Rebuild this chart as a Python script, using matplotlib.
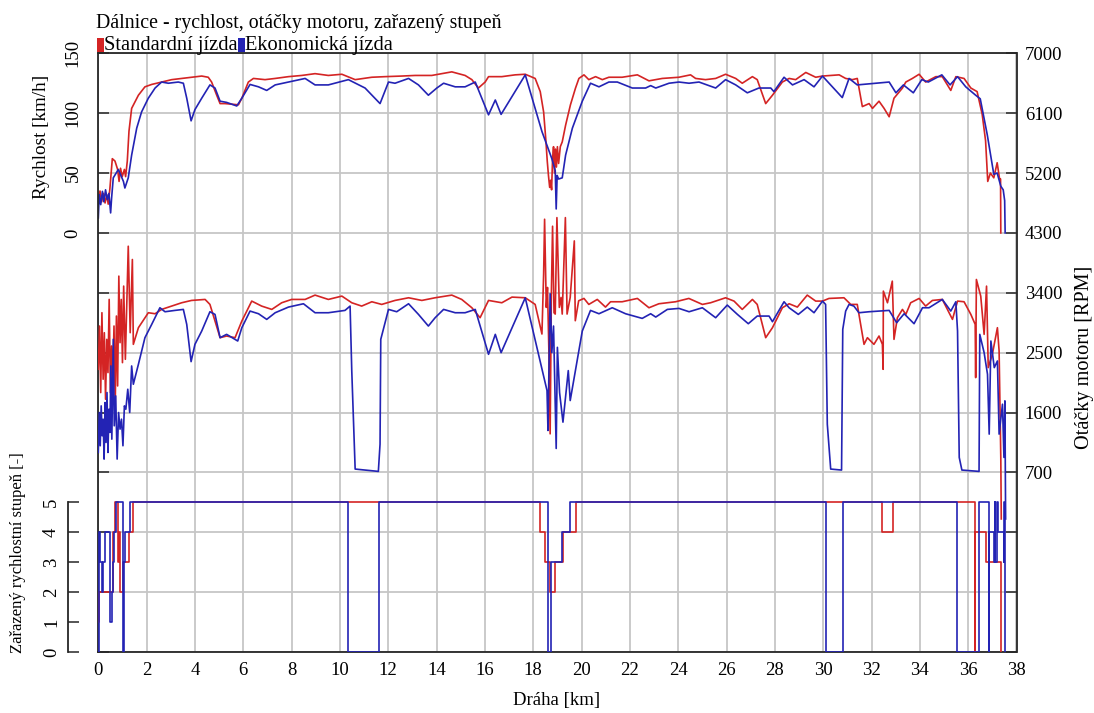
import matplotlib
matplotlib.use("Agg")
import matplotlib.pyplot as plt
import numpy as np
from matplotlib.patches import Rectangle

plt.rcParams["font.family"] = ["Liberation Serif", "DejaVu Serif"]

# ---------------------------------------------------------------- data
# (distance km, value) pairs for each recorded channel
STD_SPEED = [(0.00,29),(0.07,35),(0.14,26),(0.21,33),(0.28,25),(0.35,32),(0.41,24),(0.48,37),(0.58,62),
    (0.69,60),(0.80,53),(0.86,43),(0.92,54),(0.99,47),(1.08,53),(1.13,47),(1.20,60),(1.27,85),(1.38,104),
    (1.66,115),(1.93,122),(2.21,124),(2.62,126),(3.04,128),(3.45,129),(3.86,130),(4.28,131),(4.55,130),
    (4.69,126),(4.90,115),(5.04,108),(5.24,108),(5.52,107.5),(5.80,107),(5.94,112.5),(6.21,126),(6.42,129),
    (6.90,128),(7.32,129),(7.87,130.5),(8.42,131.5),(8.97,133),(9.52,131.5),(10.08,132.5),(10.63,128),
    (11.32,130),(11.87,130.5),(12.56,131),(13.11,131.5),(13.80,131.5),(14.08,132.5),(14.63,134.5),
    (15.18,131.5),(15.46,128),(15.73,121),(16.01,126),(16.15,130.5),(16.70,130.5),(17.25,132),(17.67,132.5),
    (18.08,129),(18.29,118),(18.43,101),(18.52,78),(18.58,60),(18.63,48),(18.68,38),(18.72,44),(18.76,36),
    (18.80,62),(18.84,72),(18.88,50),(18.92,70),(18.96,55),(19.00,72),(19.05,58),(19.12,72),(19.20,76),
    (19.34,90),(19.54,107),(19.75,121),(19.89,129),(20.10,132),(20.30,128),(20.58,130.5),(20.86,128),
    (21.13,130),(21.68,130),(22.31,132),(22.79,127),(23.34,129),(24.03,130),(24.51,132),(24.72,129),
    (25.13,128),(25.55,129),(25.96,132.5),(26.38,129),(26.65,125),(27.07,130.5),(27.27,128),(27.62,108),
    (27.90,115),(28.31,126),(28.59,129),(28.86,128),(29.28,134),(29.69,130),(29.97,131),(30.66,132),
    (30.93,129),(31.21,128),(31.41,129),(31.62,105.5),(31.90,108),(32.04,104),(32.31,110),(32.52,104),
    (32.73,97),(32.93,112.5),(33.28,121),(33.42,126),(33.69,129),(33.97,132.5),(34.24,126),(34.66,130.5),
    (34.93,130.5),(35.28,119),(35.49,130.5),(35.83,129),(36.11,121),(36.37,118),(36.58,99),(36.72,77),
    (36.81,43),(36.92,50),(37.06,46),(37.20,58.6),(37.30,45),(37.34,45),(37.35,0)]

ECO_SPEED = [(0.00,12.5),(0.04,32),(0.10,23.6),(0.17,34.7),(0.23,26),(0.30,36),(0.37,27.8),(0.44,33),
    (0.51,16.7),(0.55,29),(0.62,46),(0.83,53),(1.04,43),(1.10,37.5),(1.24,46),(1.38,65),(1.59,87.5),
    (1.79,101),(2.07,112.5),(2.35,121),(2.62,126),(2.90,125),(3.31,126),(3.52,125),(3.66,112.5),(3.84,93.6),
    (4.00,103),(4.28,112.5),(4.62,123.6),(4.83,121),(5.04,110),(5.31,109),(5.73,106),(5.94,112.5),(6.28,124),
    (6.63,122),(6.97,119),(7.32,123.6),(7.87,126),(8.56,129),(8.97,123.6),(9.52,123.6),(10.35,128),
    (11.04,121),(11.66,108),(12.01,126),(12.28,125),(12.84,129),(13.25,123.6),(13.66,115),(14.01,121),
    (14.29,125),(14.77,122),(15.18,122),(15.60,126),(16.15,98.6),(16.43,111),(16.67,99),(17.67,132),
    (18.36,84.7),(18.77,62),(18.91,52),(18.95,20),(18.99,48),(19.05,45),(19.20,46),(19.34,65),(19.62,87.5),
    (20.03,110),(20.37,125),(20.72,122),(21.13,126),(21.48,126),(22.10,121),(22.65,121),(22.86,123),
    (23.07,121),(23.62,125),(24.03,126),(24.45,125),(24.86,126),(25.55,121),(25.96,128),(26.38,123.6),
    (26.86,117),(27.34,121),(27.83,121),(27.96,118),(28.38,130),(28.73,123.6),(29.21,128),(29.62,122),
    (29.97,131),(30.38,122),(30.79,113),(31.07,129),(31.41,123.6),(32.73,126),(33.01,117),(33.32,123.6),
    (33.73,117),(34.08,128),(34.35,126),(34.91,132),(35.25,123.6),(35.56,130.5),(35.90,122),(36.31,115),
    (36.50,112),(36.79,82),(37.06,49),(37.20,50),(37.35,39),(37.45,36),(37.51,27),(37.53,0)]

STD_RPM = [(0.00,2250),(0.05,2900),(0.10,1900),(0.15,3100),(0.20,2100),(0.25,2800),(0.30,1800),(0.35,2700),
    (0.40,2200),(0.45,3300),(0.50,1900),(0.55,2600),(0.60,2100),(0.65,2900),(0.70,1700),(0.75,3050),
    (0.80,2000),(0.85,3650),(0.90,2650),(0.95,3300),(1.00,2350),(1.05,3500),(1.12,2400),(1.24,4100),
    (1.32,2800),(1.41,3900),(1.45,2625),(1.66,2875),(2.07,3100),(2.35,3085),(2.62,3150),(3.04,3200),
    (3.45,3250),(3.86,3285),(4.42,3300),(4.62,3225),(4.83,2975),(5.04,2725),(5.31,2750),(5.66,2725),
    (5.94,2975),(6.35,3275),(6.76,3200),(7.18,3150),(7.59,3250),(8.00,3300),(8.56,3300),(8.97,3365),
    (9.52,3300),(10.08,3350),(10.49,3250),(10.90,3200),(11.32,3265),(11.73,3225),(12.28,3285),(12.84,3325),
    (13.39,3285),(13.94,3325),(14.63,3365),(15.04,3300),(15.46,3175),(15.80,3025),(16.15,3285),(16.70,3250),
    (17.12,3335),(17.67,3325),(18.08,3225),(18.36,2780),(18.43,3680),(18.47,4505),(18.54,3180),(18.59,3480),
    (18.65,2480),(18.70,1280),(18.75,3380),(18.80,4400),(18.86,3100),(18.91,3080),(18.98,4530),(19.08,3180),
    (19.15,3330),(19.20,3080),(19.33,4530),(19.40,3080),(19.53,3330),(19.70,4180),(19.74,2980),(19.88,3280),
    (20.10,3315),(20.30,3225),(20.65,3300),(20.99,3185),(21.20,3265),(21.68,3265),(22.31,3315),(22.79,3175),
    (23.20,3235),(23.89,3265),(24.44,3315),(25.00,3225),(25.34,3250),(25.96,3325),(26.31,3275),(26.65,3150),
    (27.07,3300),(27.27,3225),(27.62,2725),(27.90,2875),(28.31,3175),(28.59,3235),(28.93,3185),(29.34,3365),
    (29.69,3275),(29.97,3275),(30.24,3315),(30.86,3325),(31.14,3225),(31.41,3225),(31.69,2625),(31.83,2725),
    (32.10,2625),(32.31,2750),(32.45,2625),(32.48,2250),(32.49,3425),(32.66,3250),(32.86,3575),(32.93,2700),
    (33.07,3025),(33.28,3150),(33.42,3075),(33.62,3250),(33.97,3315),(34.24,3200),(34.52,3285),(34.93,3300),
    (35.35,3000),(35.56,3275),(35.83,3265),(36.11,3075),(36.29,2925),(36.31,2125),(36.34,3600),(36.52,3350),
    (36.66,2775),(36.76,3500),(36.83,2275),(37.00,2475),(37.21,2875),(37.28,2525),(37.35,925),(37.37,0)]

ECO_RPM = [(0.00,1000),(0.04,1600),(0.08,1100),(0.12,1700),(0.16,1250),(0.20,1500),(0.24,900),(0.28,1750),
    (0.32,1150),(0.36,1900),(0.40,1000),(0.44,1650),(0.48,1300),(0.52,2300),(0.56,1200),(0.62,2700),
    (0.66,1400),(0.72,1850),(0.78,900),(0.84,1600),(0.90,1350),(0.96,1500),(1.02,1100),(1.08,1700),
    (1.14,1650),(1.22,1950),(1.30,1600),(1.38,2300),(1.45,2025),(1.66,2325),(1.93,2725),(2.21,2925),
    (2.55,3175),(2.76,3115),(3.17,3135),(3.52,3150),(3.66,2925),(3.84,2365),(4.00,2625),(4.28,2825),
    (4.62,3115),(4.83,3075),(5.04,2725),(5.31,2775),(5.77,2675),(5.94,2875),(6.28,3125),(6.63,3085),
    (6.97,3000),(7.32,3100),(7.87,3185),(8.49,3235),(8.97,3100),(9.52,3100),(10.21,3135),(10.42,3200),
    (10.49,2225),(10.63,750),(11.59,715),(11.66,1125),(11.69,2700),(12.01,3150),(12.35,3115),(12.84,3235),
    (13.25,3075),(13.66,2900),(13.94,3025),(14.29,3150),(14.77,3100),(15.18,3100),(15.60,3150),(16.15,2475),
    (16.43,2775),(16.67,2500),(17.67,3325),(18.57,1930),(18.61,1330),(18.70,3385),(18.77,2500),(18.84,2900),
    (18.95,1060),(19.00,2580),(19.09,1900),(19.23,1455),(19.45,2230),(19.53,1780),(20.03,2825),(20.37,3135),
    (20.72,3085),(21.27,3175),(21.82,3085),(22.51,3015),(22.86,3085),(23.07,3035),(23.55,3150),(24.03,3165),
    (24.45,3115),(25.00,3175),(25.55,3025),(26.03,3215),(26.45,3075),(26.90,2935),(27.27,3050),(27.76,3050),
    (27.90,2965),(28.38,3265),(28.59,3175),(28.97,3075),(29.34,3185),(29.62,3100),(29.97,3275),(30.10,3225),
    (30.17,1425),(30.31,750),(30.76,735),(30.81,2850),(30.93,3125),(31.07,3225),(31.27,3200),(31.48,3100),
    (31.90,3115),(32.73,3135),(33.04,2950),(33.35,3085),(33.76,2935),(34.11,3175),(34.38,3175),(34.93,3300),
    (35.28,3125),(35.49,3265),(35.56,2825),(35.63,925),(35.74,735),(36.45,715),(36.48,2775),(36.66,2500),
    (36.80,2175),(36.87,1275),(36.94,2675),(37.08,2275),(37.21,2375),(37.28,1275),(37.42,1725),(37.48,925),
    (37.52,1775),(37.55,0)]

# engaged gear, held until the next entry
STD_GEAR = [(0.00,1),(0.02,2),(0.62,4),(0.70,5),(0.80,3),(0.86,4),(0.90,2),(1.01,3),(1.29,4),(1.42,5),
    (18.30,4),(18.50,3),(18.70,2),(18.90,3),(19.25,4),(19.75,5),(32.44,4),(32.90,5),(36.27,0),(36.28,4),
    (36.72,3),(37.34,0)]
ECO_GEAR = [(0.00,0),(0.01,4),(0.05,3),(0.14,2),(0.21,3),(0.28,4),(0.50,1),(0.55,2),(0.60,3),(0.66,4),
    (0.72,5),(1.03,0),(1.05,3),(1.10,4),(1.31,5),(10.35,0),(11.63,5),(18.62,0),(18.75,3),(19.20,4),(19.53,5),
    (30.13,0),(30.81,5),(35.54,0),(36.44,5),(36.85,0),(36.86,4),(37.06,3),(37.10,5),(37.13,3),(37.18,5),
    (37.22,4),(37.47,3),(37.50,5),(37.52,0)]

SERIES_NAMES = ["Standardní jízda", "Ekonomická jízda"]
SPEED_TICKS = [0, 50, 100, 150]
RPM_TICKS = [700, 1600, 2500, 3400, 4300, 5200, 6100, 7000]
GEAR_TICKS = [0, 1, 2, 3, 4, 5]
X_TICKS = list(range(0, 39, 2))

TITLE = "Dálnice - rychlost, otáčky motoru, zařazený stupeň"
XLABEL = "Dráha [km]"
SPEED_LABEL = "Rychlost [km/h]"
RPM_LABEL = "Otáčky motoru [RPM]"
GEAR_LABEL = "Zařazený rychlostní stupeň [-]"

# ---------------------------------------------------------------- style
RED = "#d42424"
BLUE = "#2323b4"
GRID = "#c6c6c6"
SPINE = "#262626"
FS = 13.5
LW = 1.2

W, H = 1094, 713
fig = plt.figure(figsize=(W / 100, H / 100), dpi=100)
L, R, T, B = 98.3, 1016.5, 53.3, 652.0
ax = fig.add_axes([L / W, 1 - B / H, (R - L) / W, (B - T) / H])

def unzip(pairs):
    a = np.array(pairs, dtype=float)
    return a[:, 0], a[:, 1]

# speed scale occupies the upper part, shares the grid with the others
ax.set_xlim(0, 38)
ax.set_ylim(-350, 150)
sp_ticks = np.arange(-350, 151, 50)
ax.set_yticks(sp_ticks)
ax.set_yticklabels([str(int(v)) if v in SPEED_TICKS else "" for v in sp_ticks],
                   rotation=90, va="center", fontsize=FS)
ax.set_xticks(X_TICKS)
ax.set_xticklabels([str(v) for v in X_TICKS], fontsize=FS)
ax.grid(True, color=GRID, lw=1.3)
ax.set_axisbelow(True)
ax.tick_params(axis="y", direction="in", length=8, width=1.1, color=SPINE, pad=12)
ax.tick_params(axis="x", length=0, pad=7)
for s in ax.spines.values():
    s.set_color(SPINE)
    s.set_linewidth(1.3)

x, y = unzip(STD_SPEED)
ax.plot(x, y, color=RED, lw=LW)
x, y = unzip(ECO_SPEED)
ax.plot(x, y, color=BLUE, lw=LW)

# engine speed on the right
axr = ax.twinx()
axr.set_ylim(-2000, 7000)
rpm_ticks = np.arange(-2000, 7001, 900)
axr.set_yticks(rpm_ticks)
axr.set_yticklabels([str(int(v)) if v in RPM_TICKS else "" for v in rpm_ticks], fontsize=FS)
axr.tick_params(axis="y", direction="in", length=8, width=1.1, color=SPINE, pad=6)
for s in axr.spines.values():
    s.set_visible(False)
x, y = unzip(STD_RPM)
axr.plot(x, y, color=RED, lw=LW)
x, y = unzip(ECO_RPM)
axr.plot(x, y, color=BLUE, lw=LW)

# gear on an offset left spine at the bottom
axg = ax.twinx()
axg.set_ylim(0, 20)
axg.yaxis.tick_left()
axg.yaxis.set_label_position("left")
for k, s in axg.spines.items():
    s.set_visible(k == "left")
axg.spines["left"].set_position(("outward", 21.6))
axg.spines["left"].set_bounds(0, 5)
axg.spines["left"].set_color(SPINE)
axg.spines["left"].set_linewidth(1.3)
axg.set_yticks(GEAR_TICKS)
axg.set_yticklabels([str(v) for v in GEAR_TICKS], rotation=90, va="center", fontsize=FS)
axg.tick_params(axis="y", direction="in", length=8, width=1.1, color=SPINE, pad=6)
x, y = unzip(STD_GEAR)
axg.plot(x, y, color=RED, lw=LW, drawstyle="steps-post")
x, y = unzip(ECO_GEAR)
axg.plot(x, y, color=BLUE, lw=LW, drawstyle="steps-post")

# titles and axis captions
fig.text(96 / W, 1 - 28 / H, TITLE, fontsize=14.3, va="baseline")
fig.text(18 / W, 1 - 553 / H, GEAR_LABEL, rotation=90, ha="center", va="center", fontsize=12)
fig.text(42 / W, 1 - 137 / H, SPEED_LABEL, rotation=90, ha="center", va="center", fontsize=13.8)
fig.text(1084 / W, 1 - 357 / H, RPM_LABEL, rotation=90, ha="center", va="center", fontsize=14.6)
fig.text(557 / W, 1 - 700 / H, XLABEL, ha="center", va="center", fontsize=FS)

# legend: colour swatch followed by the series name
renderer = fig.canvas.get_renderer()
xpos = 97.0
for name, col in zip(SERIES_NAMES, [RED, BLUE]):
    fig.add_artist(Rectangle((xpos / W, 1 - 52 / H), 6.5 / W, 14 / H,
                             transform=fig.transFigure, color=col, lw=0))
    t = fig.text((xpos + 7) / W, 1 - 50 / H, name, fontsize=14.8, va="baseline")
    bb = t.get_window_extent(renderer)
    xpos = bb.x1 + 0.5

fig.savefig("out.png", dpi=100)
